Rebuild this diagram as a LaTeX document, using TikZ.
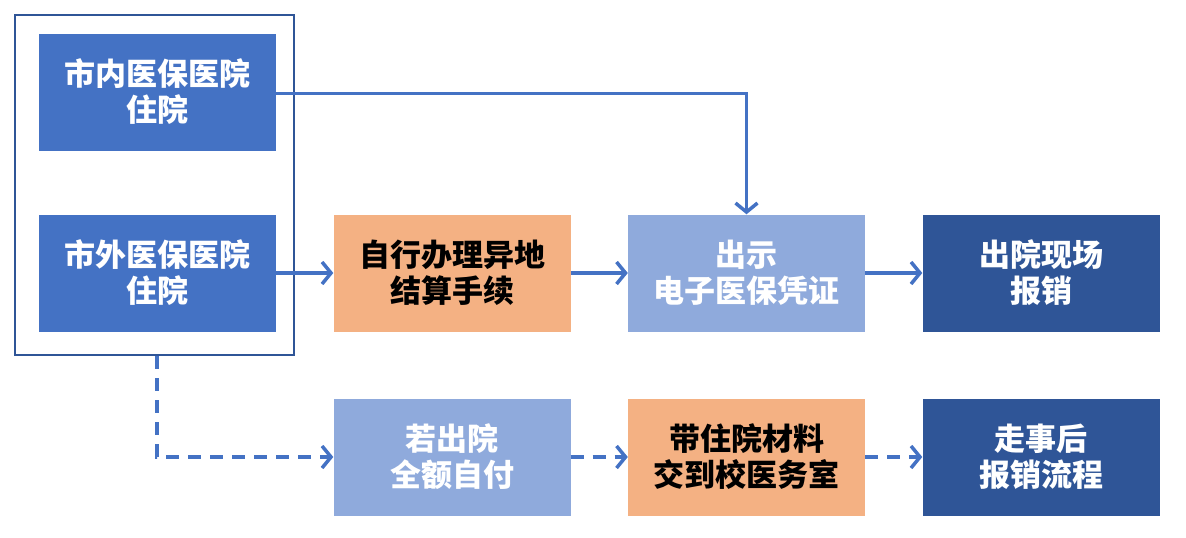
\documentclass[tikz,border=0pt]{standalone}
\usepackage{fontspec}
\newfontfamily\cjk{Noto Sans CJK SC}
\usepackage{tikz}
\usetikzlibrary{arrows.meta}
\definecolor{midblue}{RGB}{68,114,196}
\definecolor{paleblue}{RGB}{143,170,220}
\definecolor{deepblue}{RGB}{47,85,151}
\definecolor{peach}{RGB}{244,177,131}
\tikzstyle{stage}=[minimum width=237pt, minimum height=117pt, inner sep=0pt, align=center, font=\cjk\bfseries\fontsize{31}{36}\selectfont]
\tikzstyle{bluestage}=[stage, fill=midblue, text=white]
\tikzstyle{palestage}=[stage, fill=paleblue, text=white]
\tikzstyle{deepstage}=[stage, fill=deepblue, text=white]
\tikzstyle{peachstage}=[stage, fill=peach, text=black]
\tikzstyle{flow}=[draw=midblue, line width=3.5pt, -{Straight Barb[length=9pt,width=22pt]}]
\tikzstyle{laterflow}=[flow, dash pattern=on 13pt off 9pt]

\begin{document}
\begin{tikzpicture}[x=1pt,y=-1pt]
	\useasboundingbox (0,0) rectangle (1186,538);
	\node[draw=deepblue, line width=2pt, minimum width=279pt, minimum height=340pt] (zone) at (154.5,185) {};
	\node[bluestage] (inner) at (157,92) {市内医保医院\\住院};
	\node[bluestage] (outer) at (157,273) {市外医保医院\\住院};
	\node[peachstage] (transfer) at (452,273) {自行办理异地\\结算手续};
	\node[palestage] (card) at (746.5,273) {出示\\电子医保凭证};
	\node[deepstage] (settle) at (1041,273) {出院现场\\报销};
	\node[palestage] (selfpay) at (452,457) {若出院\\全额自付};
	\node[peachstage] (papers) at (746.5,457) {带住院材料\\交到校医务室};
	\node[deepstage] (later) at (1041,457) {走事后\\报销流程};
	% solid flow
	\draw[flow] ([yshift=-1.5pt]inner.east) -| (card.north);
	\draw[flow] (outer.east) -- (transfer.west);
	\draw[flow] (transfer.east) -- (card.west);
	\draw[flow] (card.east) -- (settle.west);
	% dashed flow
	\draw[laterflow] (zone.south -| inner.south) |- (selfpay.west);
	\draw[laterflow] (selfpay.east) -- (papers.west);
	\draw[laterflow] (papers.east) -- (later.west);
\end{tikzpicture}
\end{document}
